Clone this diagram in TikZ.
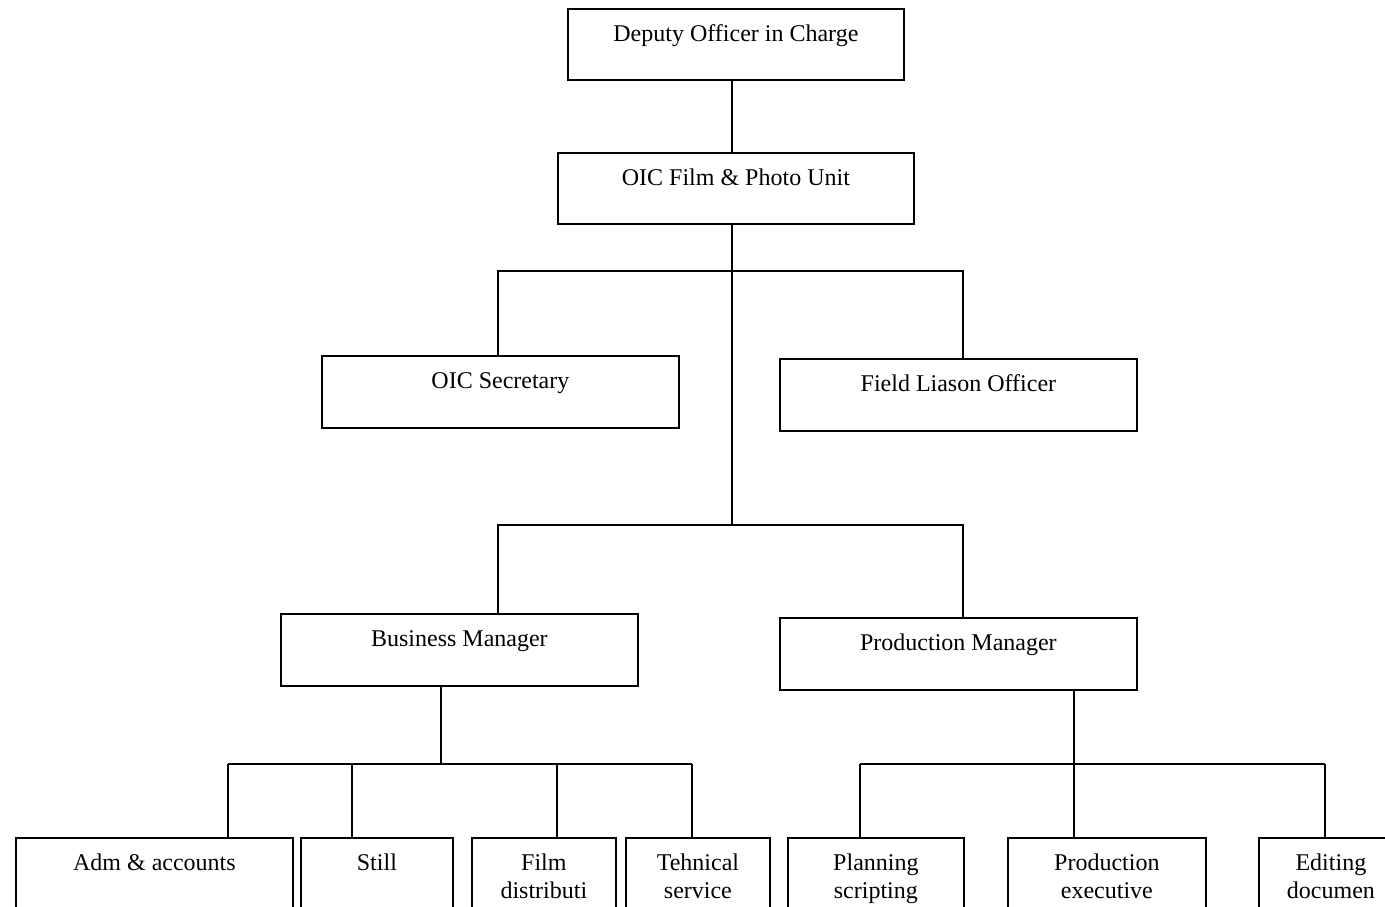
\documentclass[tikz,border=0pt]{standalone}
\usepackage{fontspec}
\setmainfont{Liberation Serif}
\begin{document}
\begin{tikzpicture}[x=1pt,y=-1pt,
  box/.style={draw, line width=1.8pt, inner sep=0pt, anchor=north west},
  txt/.style={anchor=base, align=center, inner sep=0pt, font=\fontsize{24}{28}\selectfont},
  conn/.style={line width=1.8pt}]
\useasboundingbox (0,0) rectangle (1385,906);
\clip (0,0) rectangle (1385,906);
% boxes
\node[box, minimum width=336pt, minimum height=71pt] (dep) at (567,8) {};
\node[box, minimum width=356pt, minimum height=71pt] (oic) at (557,152) {};
\node[box, minimum width=357pt, minimum height=72pt] (sec) at (321,355) {};
\node[box, minimum width=357pt, minimum height=72pt] (fld) at (779,358) {};
\node[box, minimum width=357pt, minimum height=72pt] (bus) at (280,613) {};
\node[box, minimum width=357pt, minimum height=72pt] (pm) at (779,617) {};
\node[box, minimum width=277pt, minimum height=100pt] (adm) at (15,837) {};
\node[box, minimum width=152pt, minimum height=100pt] (stl) at (300,837) {};
\node[box, minimum width=144pt, minimum height=100pt] (fdi) at (471,837) {};
\node[box, minimum width=144pt, minimum height=100pt] (tec) at (625,837) {};
\node[box, minimum width=176pt, minimum height=100pt] (pls) at (787,837) {};
\node[box, minimum width=198pt, minimum height=100pt] (pex) at (1007,837) {};
\node[box, minimum width=144pt, minimum height=100pt] (edi) at (1258,837) {};
% texts
\node[txt] (tdep) at ([yshift=-33pt]dep.north) {Deputy Officer in Charge};
\node[txt] (toic) at ([yshift=-33pt]oic.north) {OIC Film \& Photo Unit};
\node[txt] (tsec) at ([yshift=-33pt]sec.north) {OIC Secretary};
\node[txt] (tfld) at ([yshift=-33pt]fld.north) {Field Liason Officer};
\node[txt] (tbus) at ([yshift=-33pt]bus.north) {Business Manager};
\node[txt] (tpm) at ([yshift=-33pt]pm.north) {Production Manager};
\node[txt] (tadm) at ([yshift=-33pt]adm.north) {Adm \& accounts};
\node[txt] (tstl) at ([yshift=-33pt]stl.north) {Still};
\node[txt] (tfdi) at ([yshift=-61pt]fdi.north) {Film\\distributi};
\node[txt] (ttec) at ([yshift=-61pt]tec.north) {Tehnical\\service};
\node[txt] (tpls) at ([yshift=-61pt]pls.north) {Planning\\scripting};
\node[txt] (tpex) at ([yshift=-61pt]pex.north) {Production\\executive};
\node[txt] (tedi) at ([yshift=-61pt]edi.north) {Editing\\documen};
% junction coordinates
\coordinate (jA) at (732,271);
\coordinate (jB) at (732,525);
\coordinate (hA1) at (498,271);
\coordinate (hA2) at (963,271);
\coordinate (hB1) at (498,525);
\coordinate (hB2) at (963,525);
\coordinate (hC0) at (441,764);
\coordinate (hC1) at (228,764);
\coordinate (hC2) at (352,764);
\coordinate (hC3) at (557,764);
\coordinate (hC4) at (692,764);
\coordinate (hD0) at (1074,764);
\coordinate (hD1) at (860,764);
\coordinate (hD2) at (1325,764);
% connectors
\draw[conn] (dep.south -| jA) -- (oic.north -| jA);
\draw[conn] (oic.south -| jA) -- (jB);
\draw[conn] (sec.north -| hA1) -- (hA1) -- (hA2) -- (fld.north -| hA2);
\draw[conn] (bus.north -| hB1) -- (hB1) -- (hB2) -- (pm.north -| hB2);
\draw[conn] (bus.south -| hC0) -- (hC0);
\draw[conn] (hC1) -- (hC4);
\draw[conn] (hC1) -- (adm.north -| hC1);
\draw[conn] (hC2) -- (stl.north -| hC2);
\draw[conn] (hC3) -- (fdi.north -| hC3);
\draw[conn] (hC4) -- (tec.north -| hC4);
\draw[conn] (pm.south -| hD0) -- (pex.north -| hD0);
\draw[conn] (hD1) -- (hD2);
\draw[conn] (hD1) -- (pls.north -| hD1);
\draw[conn] (hD2) -- (edi.north -| hD2);
\end{tikzpicture}
\end{document}
